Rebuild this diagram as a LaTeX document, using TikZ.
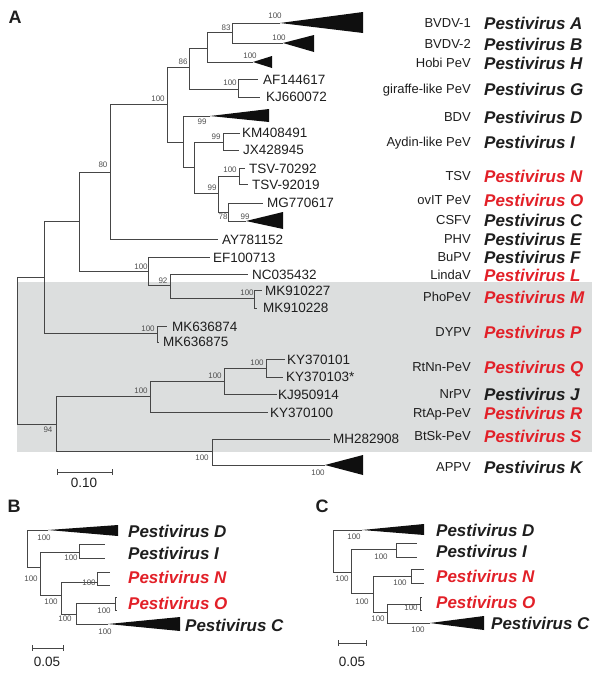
\documentclass[tikz,border=0pt]{standalone}
\usepackage{fontspec}
\setmainfont{Liberation Sans}
\definecolor{lc}{RGB}{70,70,70}
\definecolor{bsc}{RGB}{80,80,80}
\definecolor{tc}{RGB}{30,30,30}
\definecolor{pred}{RGB}{226,32,40}
\definecolor{boxg}{RGB}{220,222,222}
\definecolor{trif}{RGB}{15,15,15}
\begin{document}
\begin{tikzpicture}[x=1pt,y=-1pt,
  br/.style={draw=lc,line width=0.9pt},
  bs/.style={font=\fontsize{8}{9}\selectfont,text=bsc,inner sep=0pt},
  acc/.style={font=\fontsize{13.5}{15}\selectfont,anchor=west,inner sep=0pt,text=tc,text height=9.5pt,text depth=0pt},
  cn/.style={font=\fontsize{13}{15}\selectfont,anchor=east,inner sep=0pt,text=tc,text height=9.3pt,text depth=0pt},
  sp/.style={font=\fontsize{17}{19}\bfseries\itshape\selectfont,anchor=west,inner sep=0pt,text=tc,text height=12.2pt,text depth=0pt},
  spr/.style={sp,text=pred},
  pl/.style={font=\fontsize{18}{20}\bfseries\selectfont,inner sep=0pt,text=tc},
  sc/.style={font=\fontsize{13.5}{15}\selectfont,inner sep=0pt,text=tc},
  tri/.style={fill=trif,draw=none}]
\useasboundingbox (0,0) rectangle (600,675);
\fill[boxg] (17,282) rectangle (592,452);

% ---------- Panel A ----------
\node[pl] (lA) at (15,17) {A};
\coordinate (R) at (17,350);
\coordinate (n1) at (44,277);
\coordinate (n56) at (56,424);
\coordinate (n79) at (79,221);
\coordinate (nDY) at (157,333);
\coordinate (n110) at (110,172);
\coordinate (n148) at (148,271);
\coordinate (n167) at (167,104);
\coordinate (tAY) at (218,239);
\coordinate (n189) at (189,67);
\coordinate (n183) at (183,142);
\coordinate (n207) at (207,48);
\coordinate (n238) at (238,89);
\coordinate (n232) at (232,32);
\coordinate (tHobi) at (253,62);
\coordinate (tB1) at (280,23);
\coordinate (tB2) at (283,43);
\coordinate (tAF) at (258,79);
\coordinate (tKJa) at (260,97);
\coordinate (tBDV) at (210,116);
\coordinate (n194) at (194,167);
\coordinate (n223) at (223,142);
\coordinate (n218) at (218,193);
\coordinate (tKM) at (240,133);
\coordinate (tJX) at (239,150);
\coordinate (n239) at (239,176);
\coordinate (n228) at (228,212);
\coordinate (tTa) at (245,168);
\coordinate (tTb) at (248,184);
\coordinate (tMG) at (263,203);
\coordinate (tCS) at (246,221);
\coordinate (tEF) at (210,257);
\coordinate (n170) at (170,285);
\coordinate (tNC) at (248,274);
\coordinate (n254) at (254,298);
\coordinate (tMKa) at (262,290);
\coordinate (tMKb) at (257,308);
\coordinate (tMKc) at (167,326);
\coordinate (tMKd) at (159,342);
\coordinate (n150) at (150,396);
\coordinate (n212) at (212,451);
\coordinate (n224) at (224,381);
\coordinate (tKY00) at (268,412);
\coordinate (n266) at (266,368);
\coordinate (tKJb) at (277,394);
\coordinate (tKY01) at (285,359);
\coordinate (tKY03) at (283,377);
\coordinate (tMH) at (330,439);
\coordinate (tAP) at (325,465);

\draw[br] (R) |- (n1);  \draw[br] (R) |- (n56);
\draw[br] (n1) |- (n79); \draw[br] (n1) |- (nDY);
\draw[br] (n79) |- (n110); \draw[br] (n79) |- (n148);
\draw[br] (n110) |- (n167); \draw[br] (n110) |- (tAY);
\draw[br] (n167) |- (n189); \draw[br] (n167) |- (n183);
\draw[br] (n189) |- (n207); \draw[br] (n189) |- (n238);
\draw[br] (n207) |- (n232); \draw[br] (n207) |- (tHobi);
\draw[br] (n232) |- (tB1); \draw[br] (n232) |- (tB2);
\draw[br] (n238) |- (tAF); \draw[br] (n238) |- (tKJa);
\draw[br] (n183) |- (tBDV); \draw[br] (n183) |- (n194);
\draw[br] (n194) |- (n223); \draw[br] (n194) |- (n218);
\draw[br] (n223) |- (tKM); \draw[br] (n223) |- (tJX);
\draw[br] (n218) |- (n239); \draw[br] (n218) |- (n228);
\draw[br] (n239) |- (tTa); \draw[br] (n239) |- (tTb);
\draw[br] (n228) |- (tMG); \draw[br] (n228) |- (tCS);
\draw[br] (n148) |- (tEF); \draw[br] (n148) |- (n170);
\draw[br] (n170) |- (tNC); \draw[br] (n170) |- (n254);
\draw[br] (n254) |- (tMKa); \draw[br] (n254) |- (tMKb);
\draw[br] (nDY) |- (tMKc); \draw[br] (nDY) |- (tMKd);
\draw[br] (n56) |- (n150); \draw[br] (n56) |- (n212);
\draw[br] (n150) |- (n224); \draw[br] (n150) |- (tKY00);
\draw[br] (n224) |- (n266); \draw[br] (n224) |- (tKJb);
\draw[br] (n266) |- (tKY01); \draw[br] (n266) |- (tKY03);
\draw[br] (n212) |- (tMH); \draw[br] (n212) |- (tAP);

\fill[tri] (tB1) -- (363,12) -- (363,33) -- cycle;
\fill[tri] (tB2) -- (314,35) -- (314,52) -- cycle;
\fill[tri] (tHobi) -- (272,56) -- (272,68) -- cycle;
\fill[tri] (tBDV) -- (269,109) -- (269,122) -- cycle;
\fill[tri] (tCS) -- (283,212) -- (283,229) -- cycle;
\fill[tri] (tAP) -- (363,455) -- (363,475) -- cycle;

% bootstrap values A
\node[bs] (b1) at (275,16) {100};
\node[bs] (b2) at (279,38) {100};
\node[bs] (b3) at (250,56) {100};
\node[bs] (b4) at (226,28) {83};
\node[bs] (b5) at (183,62) {86};
\node[bs] (b6) at (230,83) {100};
\node[bs] (b7) at (158,99) {100};
\node[bs] (b8) at (202,122) {99};
\node[bs] (b9) at (216,137) {99};
\node[bs] (b10) at (230,170) {100};
\node[bs] (b11) at (212,188) {99};
\node[bs] (b12) at (223,217) {78};
\node[bs] (b13) at (245,217) {99};
\node[bs] (b14) at (103,165) {80};
\node[bs] (b15) at (141,267) {100};
\node[bs] (b16) at (163,281) {92};
\node[bs] (b17) at (247,293) {100};
\node[bs] (b18) at (148,329) {100};
\node[bs] (b19) at (141,391) {100};
\node[bs] (b20) at (215,376) {100};
\node[bs] (b21) at (257,363) {100};
\node[bs] (b22) at (48,430) {94};
\node[bs] (b23) at (202,458) {100};
\node[bs] (b24) at (318,473) {100};

% leaf labels A
\node[acc] (lAF) at (263,80) {AF144617};
\node[acc] (lKJa) at (266,97) {KJ660072};
\node[acc] (lKM) at (242,133) {KM408491};
\node[acc] (lJX) at (243,150) {JX428945};
\node[acc] (lTa) at (249,169) {TSV-70292};
\node[acc] (lTb) at (252,185) {TSV-92019};
\node[acc] (lMG) at (267,203) {MG770617};
\node[acc] (lAY) at (222,240) {AY781152};
\node[acc] (lEF) at (213,258) {EF100713};
\node[acc] (lNC) at (252,275) {NC035432};
\node[acc] (lMKa) at (265,291) {MK910227};
\node[acc] (lMKb) at (263,308) {MK910228};
\node[acc] (lMKc) at (172,327) {MK636874};
\node[acc] (lMKd) at (163,342) {MK636875};
\node[acc] (lKY01) at (287,360) {KY370101};
\node[acc] (lKY03) at (286,377) {KY370103*};
\node[acc] (lKJb) at (278,395) {KJ950914};
\node[acc] (lKY00) at (270,413) {KY370100};
\node[acc] (lMH) at (333,439) {MH282908};

% common names and species
\node[cn] (cA) at (471,23) {BVDV-1};        \node[sp]  (sA) at (484,23) {Pestivirus A};
\node[cn] (cB) at (471,44) {BVDV-2};        \node[sp]  (sB) at (484,44) {Pestivirus B};
\node[cn] (cH) at (471,63) {Hobi PeV};      \node[sp]  (sH) at (484,63) {Pestivirus H};
\node[cn] (cG) at (471,89) {giraffe-like PeV}; \node[sp] (sG) at (484,89) {Pestivirus G};
\node[cn] (cD) at (471,117) {BDV};          \node[sp]  (sD) at (484,117) {Pestivirus D};
\node[cn] (cI) at (471,142) {Aydin-like PeV}; \node[sp] (sI) at (484,142) {Pestivirus I};
\node[cn] (cN) at (471,176) {TSV};          \node[spr] (sN) at (484,176) {Pestivirus N};
\node[cn] (cO) at (471,200) {ovIT PeV};     \node[spr] (sO) at (484,200) {Pestivirus O};
\node[cn] (cC) at (471,220) {CSFV};         \node[sp]  (sC) at (484,220) {Pestivirus C};
\node[cn] (cE) at (471,239) {PHV};          \node[sp]  (sE) at (484,239) {Pestivirus E};
\node[cn] (cF) at (471,257) {BuPV};         \node[sp]  (sF) at (484,257) {Pestivirus F};
\node[cn] (cL) at (471,275) {LindaV};       \node[spr] (sL) at (484,275) {Pestivirus L};
\node[cn] (cM) at (471,297) {PhoPeV};       \node[spr] (sM) at (484,297) {Pestivirus M};
\node[cn] (cP) at (471,332) {DYPV};         \node[spr] (sP) at (484,332) {Pestivirus P};
\node[cn] (cQ) at (471,367) {RtNn-PeV};     \node[spr] (sQ) at (484,367) {Pestivirus Q};
\node[cn] (cJ) at (471,394) {NrPV};         \node[sp]  (sJ) at (484,394) {Pestivirus J};
\node[cn] (cR) at (471,413) {RtAp-PeV};     \node[spr] (sR) at (484,413) {Pestivirus R};
\node[cn] (cS) at (471,436) {BtSk-PeV};     \node[spr] (sS) at (484,436) {Pestivirus S};
\node[cn] (cK) at (471,467) {APPV};         \node[sp]  (sK) at (484,467) {Pestivirus K};

% scale bar A
\coordinate (sa1) at (57,472); \coordinate (sa2) at (112,472);
\draw[br] (sa1) -- (sa2);
\draw[br] (57,469) -- (57,475); \draw[br] (112,469) -- (112,475);
\node[sc] (sca) at (84,483) {0.10};

% ---------- Panel B ----------
\node[pl] (lB) at (14,506) {B};
\coordinate (bR) at (27,548);
\coordinate (bD) at (48,530);
\coordinate (b40) at (40,567);
\coordinate (b79) at (79,552);
\coordinate (b61) at (61,595);
\coordinate (bIa) at (105,544); \coordinate (bIb) at (105,558);
\coordinate (b97) at (97,582);
\coordinate (b76) at (76,614);
\coordinate (bNa) at (110,572); \coordinate (bNb) at (110,585);
\coordinate (b115) at (115,603);
\coordinate (bC) at (108,624);
\coordinate (bOa) at (117,597); \coordinate (bOb) at (117,610);
\draw[br] (bR) |- (bD); \draw[br] (bR) |- (b40);
\draw[br] (b40) |- (b79); \draw[br] (b40) |- (b61);
\draw[br] (b79) |- (bIa); \draw[br] (b79) |- (bIb);
\draw[br] (b61) |- (b97); \draw[br] (b61) |- (b76);
\draw[br] (b97) |- (bNa); \draw[br] (b97) |- (bNb);
\draw[br] (b76) |- (b115); \draw[br] (b76) |- (bC);
\draw[br] (b115) |- (bOa); \draw[br] (b115) |- (bOb);
\fill[tri] (bD) -- (118,525) -- (118,536) -- cycle;
\fill[tri] (bC) -- (180,617) -- (180,631) -- cycle;
\node[bs] (bb1) at (44,538) {100};
\node[bs] (bb2) at (31,579) {100};
\node[bs] (bb3) at (71,558) {100};
\node[bs] (bb4) at (51,602) {100};
\node[bs] (bb5) at (89,583) {100};
\node[bs] (bb6) at (104,611) {100};
\node[bs] (bb7) at (65,619) {100};
\node[bs] (bb8) at (105,632) {100};
\node[sp]  (bsD) at (128,531) {Pestivirus D};
\node[sp]  (bsI) at (128,553) {Pestivirus I};
\node[spr] (bsN) at (128,577) {Pestivirus N};
\node[spr] (bsO) at (128,603) {Pestivirus O};
\node[sp]  (bsC) at (185,625) {Pestivirus C};
\draw[br] (32,648) -- (63,648);
\draw[br] (32,645) -- (32,651); \draw[br] (63,645) -- (63,651);
\node[sc] (scb) at (47,662) {0.05};

% ---------- Panel C ----------
\node[pl] (lC) at (322,506) {C};
\coordinate (cRt) at (333,550);
\coordinate (cDt) at (362,530);
\coordinate (c351) at (351,572);
\coordinate (c396) at (396,549);
\coordinate (c373) at (373,593);
\coordinate (cIa) at (417,543); \coordinate (cIb) at (417,557);
\coordinate (c411) at (411,576);
\coordinate (c387) at (387,612);
\coordinate (cNa) at (424,569); \coordinate (cNb) at (424,583);
\coordinate (c420) at (420,604);
\coordinate (cCt) at (430,623);
\coordinate (cOa) at (422,597); \coordinate (cOb) at (422,610);
\draw[br] (cRt) |- (cDt); \draw[br] (cRt) |- (c351);
\draw[br] (c351) |- (c396); \draw[br] (c351) |- (c373);
\draw[br] (c396) |- (cIa); \draw[br] (c396) |- (cIb);
\draw[br] (c373) |- (c411); \draw[br] (c373) |- (c387);
\draw[br] (c411) |- (cNa); \draw[br] (c411) |- (cNb);
\draw[br] (c387) |- (c420); \draw[br] (c387) |- (cCt);
\draw[br] (c420) |- (cOa); \draw[br] (c420) |- (cOb);
\fill[tri] (cDt) -- (424,524) -- (424,535) -- cycle;
\fill[tri] (cCt) -- (484,616) -- (484,630) -- cycle;
\node[bs] (cb1) at (354,537) {100};
\node[bs] (cb2) at (342,579) {100};
\node[bs] (cb3) at (381,557) {100};
\node[bs] (cb4) at (362,602) {100};
\node[bs] (cb5) at (400,583) {100};
\node[bs] (cb6) at (411,608) {100};
\node[bs] (cb7) at (378,619) {100};
\node[bs] (cb8) at (418,630) {100};
\node[sp]  (csD) at (436,530) {Pestivirus D};
\node[sp]  (csI) at (436,551) {Pestivirus I};
\node[spr] (csN) at (436,576) {Pestivirus N};
\node[spr] (csO) at (436,602) {Pestivirus O};
\node[sp]  (csC) at (491,623) {Pestivirus C};
\draw[br] (338,643) -- (366,643);
\draw[br] (338,640) -- (338,646); \draw[br] (366,640) -- (366,646);
\node[sc] (scc) at (352,662) {0.05};
\end{tikzpicture}
\end{document}
